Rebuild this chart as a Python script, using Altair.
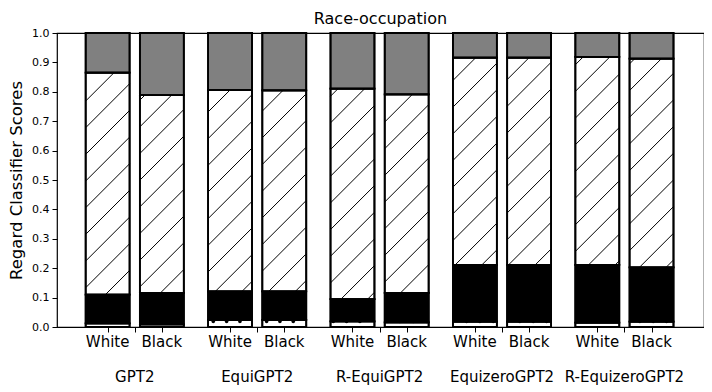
import math
import altair as alt
import pandas as pd

# ---------------- data ----------------
groups = ["GPT2", "EquiGPT2", "R-EquiGPT2", "EquizeroGPT2", "R-EquizeroGPT2"]
races = ["White", "Black"]
# segment shares per bar (group-major, White then Black), bottom to top
seg_bottom = [0.012, 0.009, 0.024, 0.024, 0.019, 0.016, 0.018, 0.018, 0.015, 0.018]
seg_black = [0.098, 0.107, 0.097, 0.097, 0.076, 0.100, 0.193, 0.193, 0.196, 0.185]
seg_hatch = [0.755, 0.673, 0.685, 0.684, 0.716, 0.675, 0.705, 0.705, 0.708, 0.710]
seg_gray = [0.135, 0.211, 0.194, 0.195, 0.189, 0.209, 0.084, 0.084, 0.081, 0.087]
seg_names = ["bottom", "black", "hatch", "gray"]
seg_colors = ["white", "black", "white", "#808080"]
y_ticks = [0.0, 0.1, 0.2, 0.3, 0.4, 0.5, 0.6, 0.7, 0.8, 0.9, 1.0]

# ---------------- layout ----------------
W, H = 647, 294
PX = 54.3 * W / 648      # pixels per x unit
X0 = -0.934
X1 = X0 + W / PX
GROUP_STEP = 2.258
BAR_W = 44 / 54.3
LEFT, TOP = 57, 33       # plot origin on the page (for hatch phase)
HATCH_S = 26.67          # '/' hatch spacing (px)
DOT_S = 13.33            # '.' hatch spacing (px)
DOT_Y = TOP + H - 5.5    # page y of visible dot row

rows, hatch_rows, dot_rows, lab_rows = [], [], [], []
tick_vals = []
for gi, g in enumerate(groups):
    gc = gi * GROUP_STEP + 0.5
    tick_vals.append(gc)
    lab_rows.append({"x": gc, "label": g, "kind": "group"})
    for ri, r in enumerate(races):
        i = gi * 2 + ri
        pos = gi * GROUP_STEP + ri
        tick_vals.append(pos)
        lab_rows.append({"x": pos, "label": r, "kind": "race"})
        vals = [seg_bottom[i], seg_black[i], seg_hatch[i], seg_gray[i]]
        cum = 0.0
        bounds = []
        for s, v in zip(seg_names, vals):
            rows.append({"x": pos - BAR_W / 2, "x2": pos + BAR_W / 2,
                         "y": cum, "y2": cum + v, "seg": s})
            bounds.append((cum, cum + v))
            cum += v
        # hatch lines for the hatched segment (pixel-space 45 deg lines)
        y0, y1 = bounds[2]
        xl = LEFT + (pos - BAR_W / 2 - X0) * PX
        xr = LEFT + (pos + BAR_W / 2 - X0) * PX
        ytop = TOP + (1 - y1) * H
        ybot = TOP + (1 - y0) * H
        kmin = math.ceil((xl + ytop) / HATCH_S)
        kmax = math.floor((xr + ybot) / HATCH_S)
        for k in range(kmin, kmax + 1):
            c = k * HATCH_S
            xa = max(xl, c - ybot)
            xb = min(xr, c - ytop)
            if xb - xa < 0.5:
                continue
            ya, yb = c - xa, c - xb
            hatch_rows.append({
                "x": (xa - LEFT) / PX + X0, "x2": (xb - LEFT) / PX + X0,
                "y": 1 - (ya - TOP) / H, "y2": 1 - (yb - TOP) / H})
        # dot hatch of bottom segment
        kd0 = math.ceil((xl + 2) / DOT_S)
        kd1 = math.floor((xr - 2) / DOT_S)
        for k in range(kd0, kd1 + 1):
            dot_rows.append({"x": (k * DOT_S - LEFT) / PX + X0,
                             "y": 1 - (DOT_Y - TOP) / H})

df = pd.DataFrame(rows)
hdf = pd.DataFrame(hatch_rows)
ddf = pd.DataFrame(dot_rows)
ldf = pd.DataFrame(lab_rows)

xs = alt.Scale(domain=[X0, X1], nice=False, zero=False)
ys = alt.Scale(domain=[0, 1], nice=False, zero=False)

x_axis = alt.Axis(values=tick_vals, labels=False, title=None,
                  tickSize=5, tickColor="black", domain=False, grid=False)
y_axis = alt.Axis(values=y_ticks, format=".1f", title="Regard Classifier Scores",
                  titleFontSize=16.5, titleFontWeight="normal", titleColor="black",
                  titlePadding=7, labelFontSize=11, labelColor="black",
                  labelOverlap=False, labelPadding=3, tickSize=5,
                  tickColor="black", domain=False, grid=False)


def xe():
    return alt.X("x:Q", scale=xs, axis=x_axis)


def ye():
    return alt.Y("y:Q", scale=ys, axis=y_axis)


bars = alt.Chart(df).mark_rect(stroke="black", strokeWidth=1.8).encode(
    x=xe(), x2="x2:Q", y=ye(), y2="y2:Q",
    fill=alt.Fill("seg:N", scale=alt.Scale(domain=seg_names, range=seg_colors), legend=None),
)

hatch = alt.Chart(hdf).mark_rule(color="black", strokeWidth=1).encode(
    x=xe(), x2="x2:Q", y=ye(), y2="y2:Q")

dots = alt.Chart(ddf).mark_circle(color="black", opacity=1, size=13).encode(
    x=xe(), y=ye())

outline = alt.Chart(df).mark_rect(fill="transparent", stroke="black", strokeWidth=1.8).encode(
    x=xe(), x2="x2:Q", y=ye(), y2="y2:Q")

race_text = alt.Chart(ldf).transform_filter("datum.kind == 'race'").mark_text(
    fontSize=15, baseline="middle", color="black").encode(
    x=xe(), y=alt.value(H + 15), text="label:N")

group_text = alt.Chart(ldf).transform_filter("datum.kind == 'group'").mark_text(
    fontSize=15, baseline="middle", color="black").encode(
    x=xe(), y=alt.value(H + 50), text="label:N")

chart = alt.layer(bars, hatch, dots, outline, race_text, group_text).properties(
    width=W, height=H, padding={"top": 3, "left": 0, "right": 0, "bottom": 0},
    title=alt.TitleParams("Race-occupation", fontSize=16, fontWeight="normal",
                          color="black", offset=0, anchor="middle"),
).configure(font="DejaVu Sans").configure_view(stroke="black", strokeWidth=1.2)

chart.save("out.html", embed_options={"renderer": "svg", "actions": False})
